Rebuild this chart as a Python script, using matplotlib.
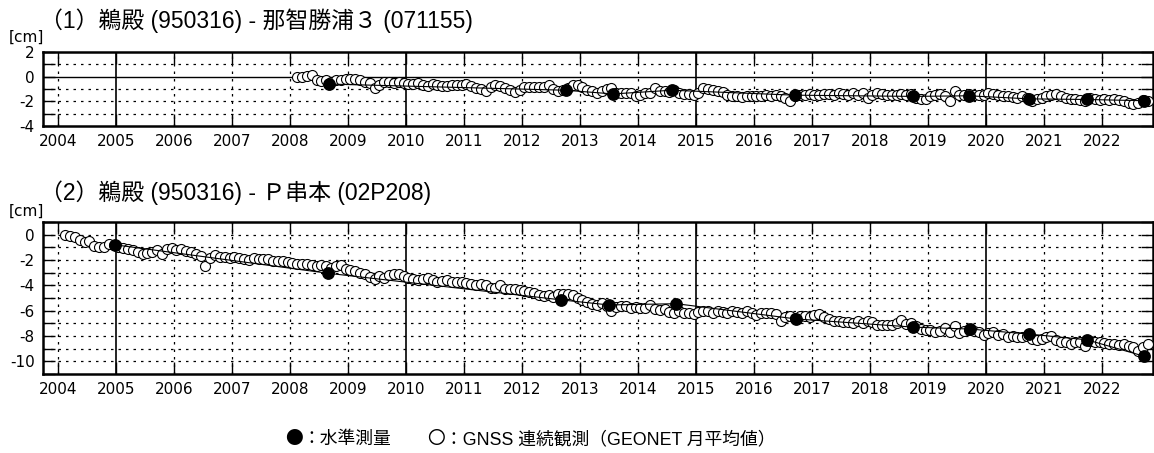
import numpy as np
import matplotlib.pyplot as plt

plt.rcParams['font.family'] = ['DejaVu Sans', 'Noto Sans CJK JP']
JP = ['Liberation Sans', 'Noto Sans CJK JP']
CJK = ['Noto Sans CJK JP']

years = list(range(2004, 2023))

# (1) 鵜殿 - 那智勝浦３ : GNSS monthly means [cm], Feb 2008 .. Oct 2022
gnss1_start = (2008, 2)
gnss1 = [
    0.0, 0.0, 0.05, 0.1, -0.3, -0.35, -0.25, -0.4, -0.3, -0.25, -0.2,                 # 2008
    -0.15, -0.2, -0.3, -0.45, -0.55, -0.9, -0.7, -0.4, -0.4, -0.5, -0.45, -0.5,       # 2009
    -0.6, -0.6, -0.55, -0.7, -0.75, -0.6, -0.7, -0.75, -0.75, -0.7, -0.7, -0.65,      # 2010
    -0.6, -0.75, -0.9, -1.0, -1.2, -0.85, -0.7, -0.75, -0.9, -1.1, -1.25, -1.05,      # 2011
    -0.85, -0.8, -0.85, -0.8, -0.85, -0.7, -1.0, -1.2, -1.05, -0.9, -0.7, -0.65,      # 2012
    -0.8, -1.05, -1.2, -1.3, -1.2, -1.0, -0.9, -1.3, -1.3, -1.35, -1.3, -1.55,        # 2013
    -1.45, -1.35, -1.3, -0.9, -1.15, -1.2, -1.25, -1.05, -1.35, -1.4, -1.4, -1.45,    # 2014
    -1.35, -0.9, -1.0, -1.1, -1.15, -1.25, -1.5, -1.55, -1.6, -1.65, -1.6, -1.55,     # 2015
    -1.6, -1.55, -1.5, -1.55, -1.45, -1.6, -1.7, -1.95, -1.6, -1.45, -1.45, -1.4,     # 2016
    -1.45, -1.5, -1.4, -1.4, -1.45, -1.35, -1.4, -1.45, -1.35, -1.45, -1.3, -1.75,    # 2017
    -1.45, -1.35, -1.4, -1.45, -1.45, -1.5, -1.4, -1.45, -1.4, -1.7, -1.85, -1.8,     # 2018
    -1.6, -1.45, -1.4, -1.55, -1.95, -1.15, -1.5, -1.45, -1.4, -1.5, -1.45, -1.45,    # 2019
    -1.3, -1.4, -1.5, -1.55, -1.6, -1.65, -1.7, -1.6, -1.7, -1.95, -1.85, -1.7,       # 2020
    -1.55, -1.5, -1.4, -1.6, -1.75, -1.85, -1.8, -1.9, -1.95, -1.75, -1.85, -1.9,     # 2021
    -1.85, -1.9, -1.85, -1.9, -1.95, -2.1, -2.25, -2.1, -1.9, -2.0,                   # 2022
]
lev1_t = [2008.67, 2012.75, 2013.57, 2014.58, 2016.7, 2018.75, 2019.7, 2020.75, 2021.74, 2022.72]
lev1_v = [-0.6, -1.1, -1.4, -1.1, -1.5, -1.6, -1.55, -1.8, -1.85, -1.95]

# (2) 鵜殿 - Ｐ串本 : GNSS monthly means [cm], Feb 2004 .. Oct 2022
gnss2_start = (2004, 2)
gnss2 = [
    0.0, -0.1, -0.2, -0.45, -0.6, -0.5, -0.9, -0.95, -0.95, -0.7, -0.85,              # 2004
    -1.0, -1.05, -1.1, -1.2, -1.35, -1.55, -1.45, -1.35, -1.2, -1.5, -1.1, -1.05,     # 2005
    -1.2, -1.15, -1.3, -1.4, -1.5, -1.7, -2.5, -1.85, -1.6, -1.75, -1.8, -1.85,       # 2006
    -1.8, -1.85, -1.9, -2.0, -1.85, -1.9, -1.95, -1.9, -2.05, -2.1, -2.1, -2.15,      # 2007
    -2.2, -2.3, -2.3, -2.35, -2.4, -2.5, -2.4, -2.45, -2.6, -2.5, -2.4, -2.7,         # 2008
    -2.8, -2.9, -3.0, -3.1, -3.35, -3.5, -3.3, -3.4, -3.15, -3.1, -3.1, -3.3,         # 2009
    -3.45, -3.5, -3.6, -3.5, -3.4, -3.6, -3.7, -3.65, -3.6, -3.7, -3.75, -3.7,        # 2010
    -3.8, -3.9, -4.0, -3.9, -4.0, -4.2, -4.2, -4.0, -4.25, -4.3, -4.3, -4.4,          # 2011
    -4.45, -4.5, -4.6, -4.75, -4.85, -4.8, -4.9, -4.7, -4.65, -4.7, -4.75, -5.0,      # 2012
    -5.15, -5.3, -5.45, -5.55, -5.4, -5.6, -6.05, -5.7, -5.6, -5.65, -5.8, -5.7,      # 2013
    -5.8, -5.75, -5.55, -5.85, -5.95, -5.9, -6.1, -6.15, -6.05, -6.15, -6.2, -6.25,   # 2014
    -6.1, -6.0, -6.05, -6.15, -6.0, -6.1, -6.2, -6.05, -6.1, -6.2, -6.0, -6.15,       # 2015
    -6.35, -6.15, -6.2, -6.15, -6.3, -6.8, -6.5, -6.4, -6.55, -6.45, -6.4, -6.5,      # 2016
    -6.35, -6.3, -6.5, -6.65, -6.8, -6.85, -6.9, -6.9, -6.95, -6.85, -7.0, -6.85,     # 2017
    -6.9, -7.1, -7.15, -7.1, -7.15, -7.0, -6.75, -7.05, -7.0, -7.2, -7.45, -7.5,      # 2018
    -7.55, -7.65, -7.6, -7.4, -7.7, -7.2, -7.8, -7.6, -7.55, -7.6, -7.7, -7.95,       # 2019
    -7.8, -7.7, -7.95, -7.85, -8.05, -8.0, -8.1, -8.05, -8.0, -8.25, -8.35, -8.2,     # 2020
    -8.1, -8.0, -8.35, -8.45, -8.5, -8.6, -8.45, -8.5, -8.75, -8.4, -8.45, -8.5,      # 2021
    -8.55, -8.6, -8.65, -8.7, -8.6, -8.8, -8.9, -9.2, -8.9, -8.6,                     # 2022
]
lev2_t = [2004.98, 2008.66, 2012.68, 2013.5, 2014.66, 2016.72, 2018.75, 2019.72, 2020.75, 2021.74, 2022.73]
lev2_v = [-0.8, -3.05, -5.15, -5.55, -5.45, -6.65, -7.3, -7.45, -7.85, -8.3, -9.6]

titles = ['（1）鵜殿 (950316) - 那智勝浦３ (071155)',
          '（2）鵜殿 (950316) - Ｐ串本 (02P208)']
legend_parts = [('●', CJK), ('：水準測量', JP), ('　　', CJK), ('〇', CJK),
                ('：GNSS 連続観測（GEONET 月平均値）', JP)]


def monthly_times(start, n):
    y0, m0 = start
    return y0 + (m0 - 0.5 + np.arange(n)) / 12.0


W, H = 1154, 453
fig = plt.figure(figsize=(W / 100, H / 100), dpi=100)
ax1 = fig.add_axes([43 / W, 1 - 126 / H, 1110 / W, 74 / H])
ax2 = fig.add_axes([43 / W, 1 - 374 / H, 1110 / W, 152 / H])


def style(ax, ylo, yhi, solid_zero):
    ax.set_xlim(2003.74, 2022.88)
    ax.set_ylim(ylo, yhi)
    ax.set_xticks(years)
    ax.set_xticklabels([str(y) for y in years])
    ticks = list(range(ylo, yhi + 1))
    ax.set_yticks(ticks)
    ax.set_yticklabels([str(t) if t % 2 == 0 else '' for t in ticks])
    ax.tick_params(direction='in', length=8.5, width=1.0, top=True, right=True,
                   labelsize=11, pad=6)
    for y in years:
        if y % 5 == 0:
            ax.axvline(y, color='black', lw=1.2, zorder=1)
        else:
            ax.axvline(y, color='black', lw=0.9, ls=(0, (2, 4)), zorder=1)
    for t in ticks[1:-1]:
        if solid_zero and t == 0:
            ax.axhline(t, color='black', lw=1.0, zorder=1)
        else:
            ax.axhline(t, color='black', lw=0.9, ls=(0, (2, 4)), zorder=1)
    for s in ax.spines.values():
        s.set_linewidth(1.8)


def draw(ax, start, g, lt, lv):
    t = monthly_times(start, len(g))
    ax.plot(t, g, ls='none', marker='o', ms=7.2, mfc='white', mec='black',
            mew=0.8, zorder=3)
    ax.plot(lt, lv, color='black', lw=0.8, zorder=4)
    ax.plot(lt, lv, ls='none', marker='o', ms=8.2, color='black', zorder=5)


style(ax1, -4, 2, True)
style(ax2, -11, 1, False)
draw(ax1, gnss1_start, gnss1, lev1_t, lev1_v)
draw(ax2, gnss2_start, gnss2, lev2_t, lev2_v)

fig.text(40 / W, 1 - 28 / H, titles[0], family=JP, fontsize=16.5, va='baseline')
fig.text(40 / W, 1 - 200 / H, titles[1], family=JP, fontsize=16.5, va='baseline')
fig.text(9 / W, 1 - 42 / H, '[cm]', fontsize=11, va='baseline')
fig.text(9 / W, 1 - 216 / H, '[cm]', fontsize=11, va='baseline')

# legend line: pieces placed one after another
renderer = fig.canvas.get_renderer()
x = 285
for txt, fam in legend_parts:
    t = fig.text(x / W, 1 - 444 / H, txt, family=fam, fontsize=12.8, va='baseline')
    x = t.get_window_extent(renderer).x1

fig.savefig('out.png', dpi=100)
